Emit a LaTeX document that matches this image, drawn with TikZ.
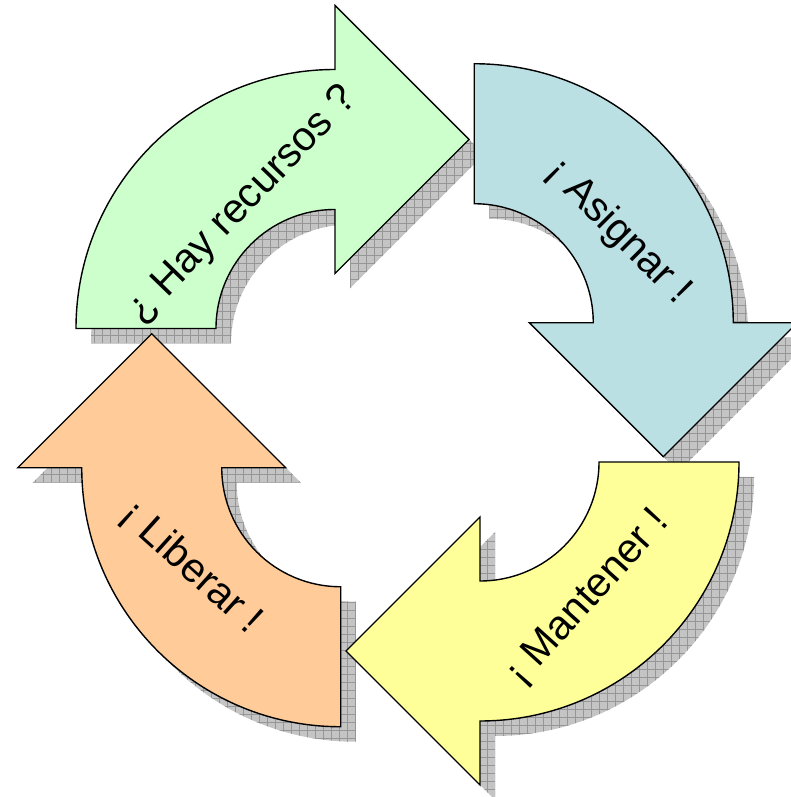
\documentclass[tikz,border=0pt]{standalone}
\usepackage{fontspec}
\setmainfont{Liberation Sans}
\definecolor{hayfill}{RGB}{204,255,204}
\definecolor{asignarfill}{RGB}{187,224,227}
\definecolor{mantenerfill}{RGB}{255,255,153}
\definecolor{liberarfill}{RGB}{255,204,153}
\definecolor{shadowfill}{RGB}{196,196,196}
\definecolor{shadowgrid}{RGB}{150,150,150}
\tikzset{
  bentarrow/.style={insert path={(-259,0) arc[start angle=180,end angle=90,radius=259] -- (0,323) -- (134,189) -- (0,55) -- (0,119) arc[start angle=90,end angle=180,radius=119] -- cycle}},
  arrowtext/.style={font=\fontsize{41}{48}\selectfont, inner sep=0pt},
}

\begin{document}
\begin{tikzpicture}[x=1pt,y=1pt]
	\useasboundingbox (0,0) rectangle (791,797);
	\clip (0,0) rectangle (791,797);
	% shadows first
	\foreach \k in {0,...,3}{
		\begin{scope}[shift={(422.5,386.75)}, rotate=-90*\k, shift={(-72.5,66.75)}]
			\fill[shadowfill, bentarrow];
			\begin{scope}
				\clip[bentarrow];
				\draw[shadowgrid, line width=0.6pt, step=8] (-300,-100) grid (300,400);
			\end{scope}
		\end{scope}
	}
	\foreach \k/\fillcol in {0/hayfill,1/asignarfill,2/mantenerfill,3/liberarfill}{
		\filldraw[fill=\fillcol, draw=black, line width=1.4pt, shift={(407.5,401.75)}, rotate=-90*\k, shift={(-72.5,66.75)}, bentarrow];
	}
	\node[arrowtext, rotate=46] (hay) at (243,592) {¿ Hay recursos ?};
	\node[arrowtext, rotate=-45] (asignar) at (618,565) {¡ Asignar !};
	\node[arrowtext, rotate=48] (mantener) at (588,199) {¡ Mantener !};
	\node[arrowtext, rotate=-42] (liberar) at (191,229) {¡ Liberar !};
\end{tikzpicture}
\end{document}
